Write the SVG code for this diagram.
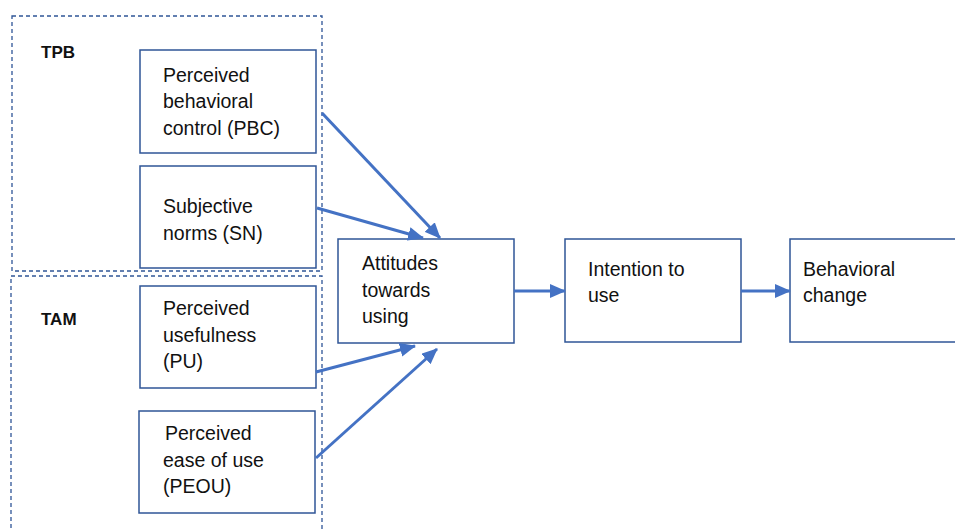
<svg xmlns="http://www.w3.org/2000/svg" width="955" height="529" viewBox="0 0 955 529">
<style>
.grp{fill:none;stroke:#2F5597;stroke-width:1.3;stroke-dasharray:4 3}
.box{fill:#fff;stroke:#2F5597;stroke-width:1.5}
.t{font-family:"Liberation Sans",Arial,sans-serif;font-size:19.5px;fill:#111}
.h{font-family:"Liberation Sans",Arial,sans-serif;font-size:17px;font-weight:bold;fill:#111}
.c{fill:none;stroke:#4472C4;stroke-width:3;marker-end:url(#ah)}
</style>
<defs>
<marker id="ah" markerUnits="userSpaceOnUse" markerWidth="16" markerHeight="14" refX="15" refY="7" orient="auto">
<path d="M0,0 L16,7 L0,14 Z" fill="#4472C4"/>
</marker>
</defs>
<rect width="955" height="529" fill="#fff"/>
<g id="TPB">
<rect class="grp" x="12" y="16" width="310" height="255"/>
<text class="h" x="41" y="58">TPB</text>
</g>
<g id="TAM">
<rect class="grp" x="11" y="276" width="311" height="270"/>
<text class="h" x="41" y="325">TAM</text>
</g>
<g id="PBC">
<rect class="box" x="140" y="50" width="176" height="103"/>
<text class="t" x="163" y="82">Perceived</text>
<text class="t" x="163" y="108">behavioral</text>
<text class="t" x="163" y="135">control (PBC)</text>
</g>
<g id="SN">
<rect class="box" x="140" y="166" width="176" height="102"/>
<text class="t" x="163" y="213">Subjective</text>
<text class="t" x="163" y="240">norms (SN)</text>
</g>
<g id="PU">
<rect class="box" x="140" y="286" width="176" height="102"/>
<text class="t" x="163" y="315">Perceived</text>
<text class="t" x="163" y="342">usefulness</text>
<text class="t" x="163" y="368">(PU)</text>
</g>
<g id="PEOU">
<rect class="box" x="139" y="411" width="176" height="102"/>
<text class="t" x="165" y="440">Perceived</text>
<text class="t" x="163" y="467">ease of use</text>
<text class="t" x="163" y="493">(PEOU)</text>
</g>
<g id="ATT">
<rect class="box" x="338" y="239" width="176" height="104"/>
<text class="t" x="362" y="270">Attitudes</text>
<text class="t" x="362" y="297">towards</text>
<text class="t" x="362" y="323">using</text>
</g>
<g id="INT">
<rect class="box" x="565" y="239" width="176" height="103"/>
<text class="t" x="588" y="276">Intention to</text>
<text class="t" x="588" y="302">use</text>
</g>
<g id="BC">
<rect class="box" x="790" y="239" width="176" height="103"/>
<text class="t" x="803" y="276">Behavioral</text>
<text class="t" x="803" y="302">change</text>
</g>
<g id="connectors">
<line class="c" x1="322" y1="113" x2="440" y2="238"/>
<line class="c" x1="317" y1="208" x2="423" y2="238"/>
<line class="c" x1="316" y1="372" x2="415" y2="346"/>
<line class="c" x1="316" y1="458" x2="437" y2="349"/>
<line class="c" x1="514" y1="291" x2="565" y2="291"/>
<line class="c" x1="741" y1="291" x2="790" y2="291"/>
</g>
</svg>
